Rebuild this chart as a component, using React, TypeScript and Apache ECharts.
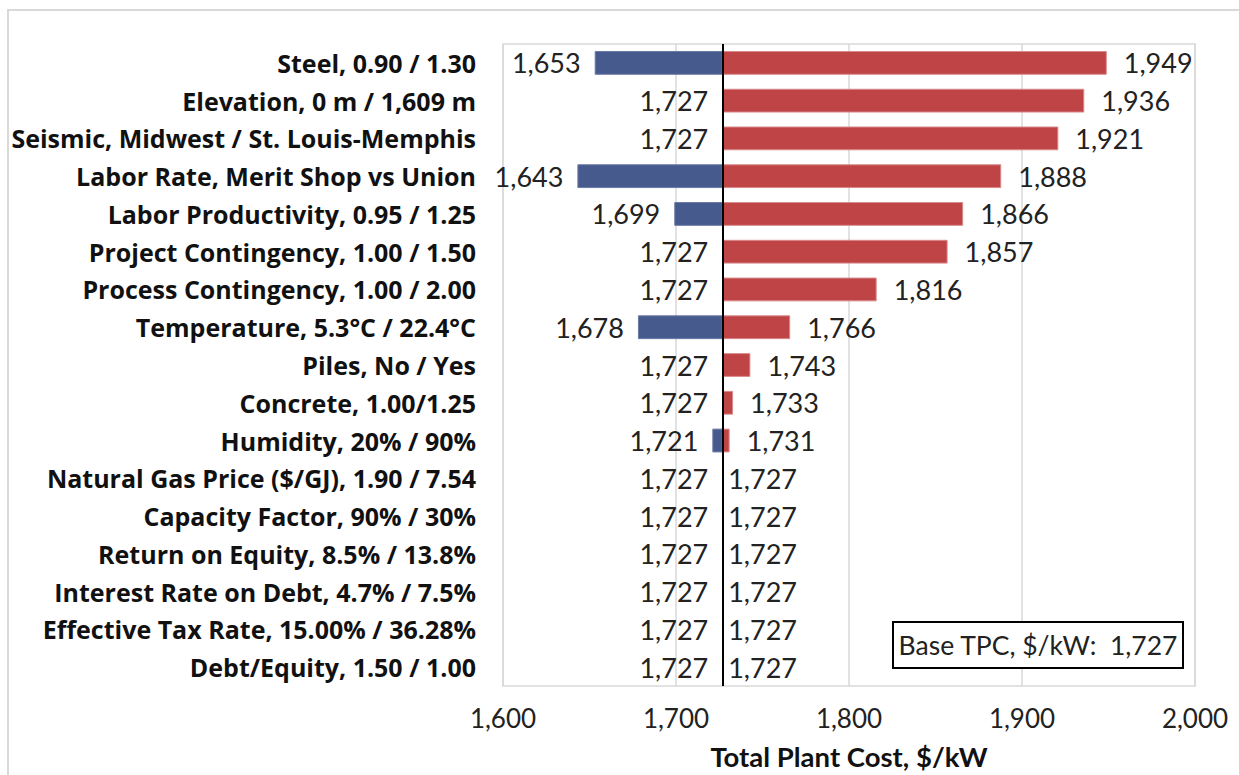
import React, { useEffect, useRef } from "react";
import * as echarts from "echarts";

const categories = [
  "Steel, 0.90 / 1.30",
  "Elevation, 0 m / 1,609 m",
  "Seismic, Midwest / St. Louis-Memphis",
  "Labor Rate, Merit Shop vs Union",
  "Labor Productivity, 0.95 / 1.25",
  "Project Contingency, 1.00 / 1.50",
  "Process Contingency, 1.00 / 2.00",
  "Temperature, 5.3°C / 22.4°C",
  "Piles, No / Yes",
  "Concrete, 1.00/1.25",
  "Humidity, 20% / 90%",
  "Natural Gas Price ($/GJ), 1.90 / 7.54",
  "Capacity Factor, 90% / 30%",
  "Return on Equity, 8.5% / 13.8%",
  "Interest Rate on Debt, 4.7% / 7.5%",
  "Effective Tax Rate, 15.00% / 36.28%",
  "Debt/Equity, 1.50 / 1.00",
];

const baseValue = 1727;
const lowValues = [1653, 1727, 1727, 1643, 1699, 1727, 1727, 1678, 1727, 1727, 1721, 1727, 1727, 1727, 1727, 1727, 1727];
const highValues = [1949, 1936, 1921, 1888, 1866, 1857, 1816, 1766, 1743, 1733, 1731, 1727, 1727, 1727, 1727, 1727, 1727];
const xTicks = [1600, 1700, 1800, 1900, 2000];

const FONT = "Lato";
const fmt = (v: number) => v.toLocaleString("en-US");

export default function App() {
  const ref = useRef<HTMLDivElement>(null);
  useEffect(() => {
    if (!ref.current) return;
    const chart = echarts.init(ref.current, null, { renderer: "svg" });
    const blue = "#475A8E";
    const red = "#BF4446";
    chart.setOption({
      animation: false,
      backgroundColor: "#fff",
      textStyle: { fontFamily: FONT },
      grid: { left: 503, right: 44, top: 44, bottom: 88, show: true, borderColor: "#d9d9d9", borderWidth: 1.5, containLabel: false },
      xAxis: {
        type: "value",
        min: xTicks[0],
        max: xTicks[xTicks.length - 1],
        interval: 100,
        axisLine: { show: false },
        axisTick: { show: false },
        splitLine: { lineStyle: { color: "#d9d9d9", width: 1.5 } },
        axisLabel: { fontFamily: FONT, fontSize: 26, color: "#222", margin: 19, formatter: (v: number) => fmt(v) },
        name: "Total Plant Cost, $/kW",
        nameLocation: "middle",
        nameGap: 56,
        nameTextStyle: { fontFamily: FONT, fontSize: 27.5, fontWeight: "bold", color: "#111" },
      },
      yAxis: {
        type: "category",
        data: categories,
        inverse: true,
        axisLine: { show: false },
        axisTick: { show: false },
        splitLine: { show: false },
        axisLabel: { fontFamily: "Open Sans", fontSize: 25, fontWeight: "bold", color: "#111", margin: 27 },
      },
      series: [
        {
          type: "bar",
          stack: "low",
          data: lowValues,
          itemStyle: { color: "transparent" },
          barWidth: "63%",
          silent: true,
        },
        {
          type: "bar",
          stack: "low",
          data: lowValues.map((v) => baseValue - v),
          itemStyle: { color: blue, borderColor: "#6a7aa6", borderWidth: 1 },
          barWidth: "63%",
          label: {
            show: true,
            position: "left",
            distance: 14,
            fontFamily: FONT,
            fontSize: 27,
            color: "#222",
            formatter: (p: any) => fmt(lowValues[p.dataIndex]),
          },
        },
        {
          type: "bar",
          stack: "high",
          data: highValues.map(() => baseValue),
          itemStyle: { color: "transparent" },
          barWidth: "63%",
          barGap: "-100%",
          silent: true,
        },
        {
          type: "bar",
          stack: "high",
          barGap: "-100%",
          data: highValues.map((v) => ({
            value: v - baseValue,
            label: { distance: v === baseValue ? 5 : 17 },
          })),
          itemStyle: { color: red, borderColor: "#d98a8b", borderWidth: 1 },
          barWidth: "63%",
          label: {
            show: true,
            position: "right",
            fontFamily: FONT,
            fontSize: 27,
            color: "#222",
            formatter: (p: any) => fmt(highValues[p.dataIndex]),
          },
          markLine: {
            silent: true,
            symbol: "none",
            label: { show: false },
            lineStyle: { color: "#000", width: 2, type: "solid" },
            data: [{ xAxis: baseValue }],
          },
        },
      ],
      graphic: [
        {
          type: "rect",
          shape: { x: 8, y: 10, width: 1260, height: 800 },
          style: { fill: "none", stroke: "#d9d9d9", lineWidth: 2 },
          silent: true,
        },
        {
          type: "rect",
          shape: { x: 893, y: 622, width: 290, height: 46 },
          style: { fill: "#fff", stroke: "#000", lineWidth: 2 },
          z: 100,
        },
        {
          type: "text",
          x: 1038,
          y: 645,
          z: 101,
          style: {
            text: "Base TPC, $/kW:  " + fmt(baseValue),
            fontFamily: FONT,
            fontSize: 26.5,
            fill: "#222",
            align: "center",
            verticalAlign: "middle",
          },
        },
      ],
    });
    return () => chart.dispose();
  }, []);
  return <div ref={ref} style={{ position: "fixed", left: 0, top: 0, width: 1239, height: 775 }} />;
}
